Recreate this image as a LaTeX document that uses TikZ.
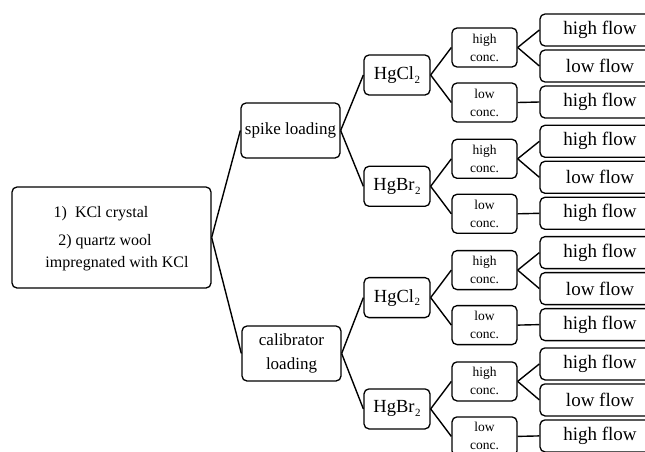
\documentclass[tikz,border=0pt]{standalone}
\usepackage{fontspec}
\setmainfont{Liberation Serif}
\newcommand{\flowf}{\fontsize{19}{19}\selectfont}
\newcommand{\concf}{\fontsize{13.5}{18}\selectfont}
\newcommand{\hgf}{\fontsize{18.5}{20}\selectfont}
\newcommand{\loadf}{\fontsize{17}{24}\selectfont}
\newcommand{\rootf}{\fontsize{16}{16}\selectfont}
\newcommand{\subtwo}{\kern0.6pt\raisebox{-0.45ex}{\fontsize{11}{11}\selectfont 2}}
\begin{document}
\begin{tikzpicture}[x=1pt,y=-1pt,
  box/.style={draw, line width=1.3pt, rounded corners=5pt, inner sep=0pt, align=center},
  conn/.style={line width=1.4pt},
  flowbox/.style={box, minimum width=120, minimum height=32, font=\flowf},
  concbox/.style={box, minimum width=65, minimum height=39, font=\concf},
  hgbox/.style={box, minimum width=66, minimum height=40, font=\hgf},
  loadbox/.style={box, minimum width=99, minimum height=55, font=\loadf},
  roottext/.style={anchor=base, font=\rootf, inner sep=0pt}]
\clip (0,0) rectangle (645,451);
\node[box, minimum width=199, minimum height=101] (root) at (111.5,237.5) {};
\node[roottext] (r1) at (101,217) {1)\ \ KCl crystal};
\node[roottext] (r2) at (105,245) {2) quartz wool};
\node[roottext] (r3) at (117,267) {impregnated with KCl};
\node[loadbox] (spike) at (290.5,130.5) {spike loading};
\node[loadbox] (calib) at (291.5,353.5) {calibrator\\loading};
\draw[conn] (root.east) -- (spike.west);
\draw[conn] (root.east) -- (calib.west);
\foreach \i/\nm/\ln in {1/Cl/spike, 2/Br/spike, 3/Cl/calib, 4/Br/calib} {
  \pgfmathsetmacro\g{14+111.3*(\i-1)}
  \node[hgbox] (hg\i) at (397,\g+61) {Hg\nm\subtwo};
  \node[concbox] (hc\i) at (484.5,\g+33.5) {high\\conc.};
  \node[concbox] (lc\i) at (484.5,\g+88.5) {low\\conc.};
  \node[flowbox] (fa\i) at (600,\g+16) {high flow};
  \node[flowbox] (fb\i) at (600,\g+52) {low flow};
  \node[flowbox] (fc\i) at (600,\g+88) {high flow};
  \draw[conn] (\ln.east) -- (hg\i.west);
  \draw[conn] (hg\i.east) -- (hc\i.west);
  \draw[conn] (hg\i.east) -- (lc\i.west);
  \draw[conn] (hc\i.east) -- (fa\i.west);
  \draw[conn] (hc\i.east) -- (fb\i.west);
  \draw[conn] (lc\i.east) -- (fc\i.west);
}
\end{tikzpicture}
\end{document}
